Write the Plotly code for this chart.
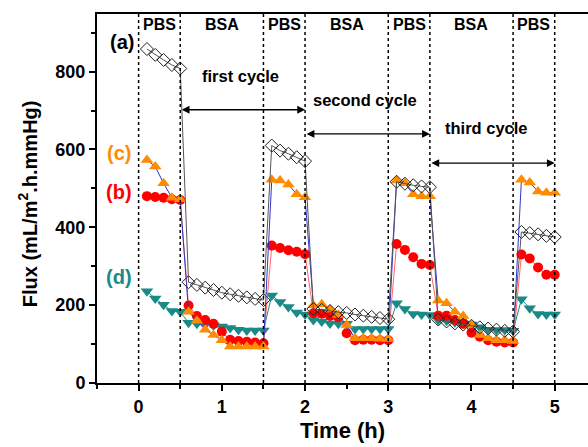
import plotly.graph_objects as go

time_h = [0.1, 0.2, 0.3, 0.4, 0.5,
          0.6, 0.7, 0.8, 0.9, 1.0, 1.1, 1.2, 1.3, 1.4, 1.5,
          1.6, 1.7, 1.8, 1.9, 2.0,
          2.1, 2.2, 2.3, 2.4, 2.5, 2.6, 2.7, 2.8, 2.9, 3.0,
          3.1, 3.2, 3.3, 3.4, 3.5,
          3.6, 3.7, 3.8, 3.9, 4.0, 4.1, 4.2, 4.3, 4.4, 4.5,
          4.6, 4.7, 4.8, 4.9, 5.0]

flux_a = [858, 843, 830, 817, 808,
          259, 252, 245, 239, 232, 228, 224, 220, 216, 213,
          610, 597, 589, 580, 570,
          190, 188, 185, 182, 180, 176, 173, 170, 167, 164,
          517, 512, 508, 505, 503,
          163, 158, 153, 150, 147, 143, 140, 137, 134, 132,
          388, 385, 382, 378, 375]

flux_b = [480, 478, 476, 472, 470,
          199, 172, 162, 152, 132, 111, 108, 106, 104, 102,
          353, 347, 341, 337, 331,
          179, 178, 172, 169, 128, 110, 111, 111, 110, 110,
          357, 342, 323, 306, 303,
          173, 173, 162, 152, 129, 119, 110, 106, 104, 104,
          330, 320, 297, 278, 278]

flux_c = [573, 556, 513, 476, 472,
          183, 160, 137, 123, 110, 94, 94, 94, 94, 94,
          522, 520, 510, 485, 477,
          200, 202, 189, 175, 149, 115, 115, 115, 114, 113,
          520, 513, 485, 480, 480,
          212, 205, 183, 172, 149, 123, 115, 110, 110, 108,
          522, 515, 492, 489, 489]

flux_d = [236, 217, 201, 185, 183,
          155, 152, 150, 148, 145, 141, 137, 135, 135, 135,
          225, 208, 195, 181, 176,
          162, 158, 153, 152, 152, 139, 139, 139, 139, 139,
          205, 190, 177, 176, 175,
          162, 160, 156, 152, 150, 143, 137, 136, 136, 134,
          215, 192, 177, 176, 176]

phase_labels = ["PBS", "BSA", "PBS", "BSA", "PBS", "BSA", "PBS"]
phase_centers = [0.25, 1.0, 1.75, 2.5, 3.25, 4.0, 4.75]
boundaries = [0, 0.5, 1.5, 2, 3, 3.5, 4.5, 5]

FONT = "Liberation Sans, Arial, sans-serif"
ORANGE = "#ff8c00"
RED = "#ff0000"
TEAL = "#1a8a87"

fig = go.Figure()

fig.add_trace(go.Scatter(
    x=time_h, y=flux_d, mode="lines+markers",
    line=dict(color=TEAL, width=1),
    marker=dict(symbol="triangle-down", size=11, color=TEAL),
    name="(d)"))
fig.add_trace(go.Scatter(
    x=time_h, y=flux_b, mode="lines+markers",
    line=dict(color="#ff6666", width=1),
    marker=dict(symbol="circle", size=10, color=RED),
    name="(b)"))
fig.add_trace(go.Scatter(
    x=time_h, y=flux_c, mode="lines+markers",
    line=dict(color="#3333cc", width=1),
    marker=dict(symbol="triangle-up", size=11, color=ORANGE),
    name="(c)"))
fig.add_trace(go.Scatter(
    x=time_h, y=flux_a, mode="lines+markers",
    line=dict(color="#555555", width=1),
    marker=dict(symbol="diamond-open", size=10, color="#222222",
                line=dict(width=1)),
    name="(a)"))

shapes = []
for b in boundaries:
    shapes.append(dict(type="line", xref="x", yref="paper", x0=b, x1=b,
                       y0=0, y1=1, line=dict(color="black", width=1.5, dash="dot")))
fig.update_layout(shapes=shapes)

annotations = []
for lab, cx in zip(phase_labels, phase_centers):
    annotations.append(dict(x=cx, y=922, xref="x", yref="y", text=lab,
                            showarrow=False,
                            font=dict(family=FONT, size=16, color="black", weight="bold")))

side_labels = [("(a)", -0.2, 875, "black"), ("(c)", -0.24, 590, ORANGE),
               ("(b)", -0.24, 490, RED), ("(d)", -0.24, 272, TEAL)]
for t, x, y, c in side_labels:
    annotations.append(dict(x=x, y=y, xref="x", yref="y", text=t, showarrow=False,
                            font=dict(family=FONT, size=20, color=c, weight="bold")))

cycle_texts = [("first cycle", 1.23, 790), ("second cycle", 2.72, 727), ("third cycle", 4.18, 654)]
for t, x, y in cycle_texts:
    annotations.append(dict(x=x, y=y, xref="x", yref="y", text=t, showarrow=False,
                            font=dict(family=FONT, size=16.5, color="black", weight="bold")))

cycle_arrows = [(0.5, 2.0, 702), (2.0, 3.5, 640), (3.5, 5.0, 565)]
for x0, x1, y in cycle_arrows:
    annotations.append(dict(x=x1, y=y, ax=x0, ay=y, xref="x", yref="y",
                            axref="x", ayref="y", text="", showarrow=True,
                            arrowhead=2, startarrowhead=2, arrowside="end+start",
                            arrowsize=1.2, arrowwidth=1.3, arrowcolor="black"))

# y-axis title placed explicitly
annotations.append(dict(x=-0.14, y=460, xref="paper", yref="y",
                        text="Flux (mL/m<sup>2</sup>.h.mmHg)", textangle=-90,
                        showarrow=False, xanchor="center", yanchor="middle",
                        font=dict(family=FONT, size=20, color="black", weight="bold")))

fig.update_layout(annotations=annotations)

fig.update_layout(
    width=588, height=447,
    margin=dict(l=97, r=0, t=14, b=64),
    paper_bgcolor="white", plot_bgcolor="white",
    showlegend=False,
    font=dict(family=FONT, color="black"),
    xaxis=dict(range=[-0.5, 5.4], tickvals=[0, 1, 2, 3, 4, 5],
               showgrid=False, zeroline=False,
               showline=True, linecolor="black", linewidth=2, mirror=True,
               ticks="outside", ticklen=6, tickwidth=2, tickcolor="black",
               minor=dict(ticks="outside", dtick=0.5, tick0=0, ticklen=4,
                          tickwidth=2, tickcolor="black"),
               tickfont=dict(family=FONT, size=18, color="black", weight="bold"),
               title=dict(text="Time (h)", standoff=7,
                          font=dict(family=FONT, size=22, color="black", weight="bold"))),
    yaxis=dict(range=[0, 948], tickvals=[0, 200, 400, 600, 800],
               showgrid=False, zeroline=False,
               showline=True, linecolor="black", linewidth=2,
               ticks="outside", ticklen=6, tickwidth=2, tickcolor="black",
               minor=dict(ticks="outside", dtick=100, tick0=0, ticklen=4,
                          tickwidth=2, tickcolor="black"),
               tickfont=dict(family=FONT, size=18, color="black", weight="bold")),
)

fig.write_html("out.html")
